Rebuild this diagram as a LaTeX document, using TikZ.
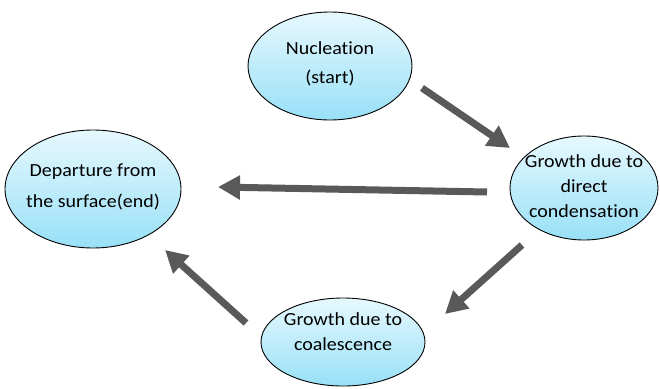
\documentclass[tikz,border=0pt]{standalone}
\usepackage{fontspec}
\setmainfont{Carlito}[FakeStretch=1.08, Ligatures={NoCommon}]
\usetikzlibrary{arrows.meta,shapes.geometric}
\definecolor{topc}{HTML}{E6F8FE}
\definecolor{botc}{HTML}{98E0F7}
\definecolor{arr}{HTML}{595959}
\tikzset{
  bubble/.style={ellipse, draw=black, line width=0.9pt, top color=topc, bottom color=botc, inner sep=0pt},
  txt/.style={align=center, font=\fontsize{18.5}{29}\selectfont, inner sep=0pt},
  flow/.style={draw=arr, line width=7pt, -{Triangle[length=22pt,width=23pt]}, shorten >=0pt}
}
\begin{document}
\begin{tikzpicture}[x=1pt,y=-1pt]
\useasboundingbox (0,0) rectangle (660,388);
\node[bubble, minimum width=164pt, minimum height=108pt] (nuc) at (330,66) {};
\node[txt] (nuct) at ([yshift=2pt]nuc.center) {Nucleation\\(start)};
\node[bubble, minimum width=176pt, minimum height=118pt] (dep) at (93,189) {};
\node[txt, font=\fontsize{18.5}{31}\selectfont] (dept) at ([yshift=2pt]dep.center) {Departure from\\the surface(end)};
\node[bubble, minimum width=148pt, minimum height=104pt] (gdc) at (584,188) {};
\node[txt, font=\fontsize{18.5}{25}\selectfont] (gdct) at ([yshift=2pt]gdc.center) {Growth due to\\direct\\condensation};
\node[bubble, minimum width=164pt, minimum height=88pt] (gco) at (343,342) {};
\node[txt, font=\fontsize{18.5}{25}\selectfont] (gcot) at ([yshift=10pt]gco.center) {Growth due to\\coalescence};
\coordinate (a1s) at (422,88); \coordinate (a1e) at (510,148);
\coordinate (a2s) at (487,192); \coordinate (a2e) at (218,187);
\coordinate (a3s) at (522,245); \coordinate (a3e) at (445,314);
\coordinate (a4s) at (246,323); \coordinate (a4e) at (165,250);
\draw[flow] (a1s) -- (a1e);
\draw[flow] (a2s) -- (a2e);
\draw[flow] (a3s) -- (a3e);
\draw[flow] (a4s) -- (a4e);
\end{tikzpicture}
\end{document}
